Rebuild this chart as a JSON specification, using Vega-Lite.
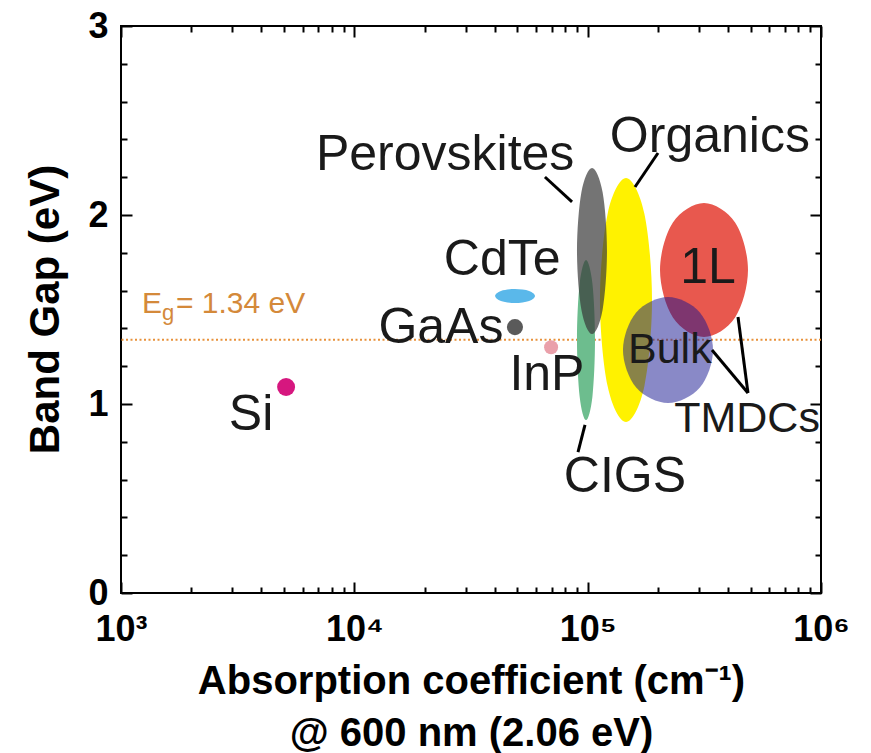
{
  "$schema": "https://vega.github.io/schema/vega-lite/v6.json",
  "width": 700,
  "height": 567,
  "autosize": {"type": "none"},
  "padding": {"left": 121, "top": 26, "right": 50, "bottom": 160},
  "config": {
    "view": {"stroke": "#000", "strokeWidth": 2},
    "font": "Liberation Sans",
    "text": {"font": "Liberation Sans"}
  },
  "datasets": {
    "ellipses": [
      {"m": "Organics", "i": 0, "ab": 188700, "eg": 1.55},
      {"m": "Organics", "i": 1, "ab": 175000, "eg": 2.007},
      {"m": "Organics", "i": 2, "ab": 146000, "eg": 2.196},
      {"m": "Organics", "i": 3, "ab": 121800, "eg": 2.007},
      {"m": "Organics", "i": 4, "ab": 112900, "eg": 1.55},
      {"m": "Organics", "i": 5, "ab": 121800, "eg": 1.094},
      {"m": "Organics", "i": 6, "ab": 146000, "eg": 0.905},
      {"m": "Organics", "i": 7, "ab": 175000, "eg": 1.094},
      {"m": "1L", "i": 0, "ab": 486500, "eg": 1.709},
      {"m": "1L", "i": 1, "ab": 428400, "eg": 1.96},
      {"m": "1L", "i": 2, "ab": 315200, "eg": 2.064},
      {"m": "1L", "i": 3, "ab": 231900, "eg": 1.96},
      {"m": "1L", "i": 4, "ab": 204200, "eg": 1.709},
      {"m": "1L", "i": 5, "ab": 231900, "eg": 1.458},
      {"m": "1L", "i": 6, "ab": 315200, "eg": 1.355},
      {"m": "1L", "i": 7, "ab": 428400, "eg": 1.458},
      {"m": "CIGS", "i": 0, "ab": 107500, "eg": 1.339},
      {"m": "CIGS", "i": 1, "ab": 104800, "eg": 1.638},
      {"m": "CIGS", "i": 2, "ab": 98400, "eg": 1.762},
      {"m": "CIGS", "i": 3, "ab": 92400, "eg": 1.638},
      {"m": "CIGS", "i": 4, "ab": 90000, "eg": 1.339},
      {"m": "CIGS", "i": 5, "ab": 92400, "eg": 1.039},
      {"m": "CIGS", "i": 6, "ab": 98400, "eg": 0.915},
      {"m": "CIGS", "i": 7, "ab": 104800, "eg": 1.039},
      {"m": "Perovskites", "i": 0, "ab": 121000, "eg": 1.81},
      {"m": "Perovskites", "i": 1, "ab": 115900, "eg": 2.12},
      {"m": "Perovskites", "i": 2, "ab": 104400, "eg": 2.249},
      {"m": "Perovskites", "i": 3, "ab": 94000, "eg": 2.12},
      {"m": "Perovskites", "i": 4, "ab": 90000, "eg": 1.81},
      {"m": "Perovskites", "i": 5, "ab": 94000, "eg": 1.499},
      {"m": "Perovskites", "i": 6, "ab": 104400, "eg": 1.37},
      {"m": "Perovskites", "i": 7, "ab": 115900, "eg": 1.499},
      {"m": "Bulk", "i": 0, "ab": 344500, "eg": 1.286},
      {"m": "Bulk", "i": 1, "ab": 302500, "eg": 1.484},
      {"m": "Bulk", "i": 2, "ab": 221000, "eg": 1.566},
      {"m": "Bulk", "i": 3, "ab": 161400, "eg": 1.484},
      {"m": "Bulk", "i": 4, "ab": 141700, "eg": 1.286},
      {"m": "Bulk", "i": 5, "ab": 161400, "eg": 1.087},
      {"m": "Bulk", "i": 6, "ab": 221000, "eg": 1.005},
      {"m": "Bulk", "i": 7, "ab": 302500, "eg": 1.087},
      {"m": "CdTe", "i": 0, "ab": 59500, "eg": 1.571},
      {"m": "CdTe", "i": 1, "ab": 56100, "eg": 1.598},
      {"m": "CdTe", "i": 2, "ab": 48800, "eg": 1.608},
      {"m": "CdTe", "i": 3, "ab": 42500, "eg": 1.598},
      {"m": "CdTe", "i": 4, "ab": 40100, "eg": 1.571},
      {"m": "CdTe", "i": 5, "ab": 42500, "eg": 1.545},
      {"m": "CdTe", "i": 6, "ab": 48800, "eg": 1.534},
      {"m": "CdTe", "i": 7, "ab": 56100, "eg": 1.545}
    ]
  },
  "resolve": {"axis": {"x": "independent", "y": "independent"}},
  "layer": [
    {
      "data": {"values": [{"eg": 1.34}]},
      "mark": {"type": "rule", "color": "#e8913a", "strokeWidth": 2, "strokeDash": [2, 2.5]},
      "encoding": {
        "y": {"field": "eg", "type": "quantitative", "scale": {"domain": [0, 3], "nice": false, "zero": false}, "axis": null}
      }
    },
    {
      "data": {"name": "ellipses"},
      "transform": [{"filter": "datum.m == 'Organics'"}],
      "mark": {"type": "line", "interpolate": "cardinal-closed", "fill": "#fff200", "stroke": "transparent", "strokeWidth": 0},
      "encoding": {
        "x": {"field": "ab", "type": "quantitative", "scale": {"type": "log", "domain": [1000, 1000000], "nice": false},
          "axis": {"orient": "bottom", "values": [1000, 10000, 100000, 1000000],
            "labelExpr": "datum.value == 1000 ? '10³' : datum.value == 10000 ? '10⁴' : datum.value == 100000 ? '10⁵' : '10⁶'",
            "ticks": false, "domain": false, "grid": false, "labelFontSize": 36, "labelFontWeight": "bold", "labelColor": "#000",
            "labelPadding": 19, "labelFlush": false, "labelOverlap": false, "labelBound": false,
            "title": ["Absorption coefficient (cm⁻¹)", "@ 600 nm (2.06 eV)"], "titleFontSize": 40, "titleFontWeight": "bold", "titleColor": "#000",
            "titleX": 350, "titleY": 100, "titleBaseline": "alphabetic", "titleAlign": "center", "titleLineHeight": 52}},
        "y": {"field": "eg", "type": "quantitative", "scale": {"domain": [0, 3], "nice": false, "zero": false},
          "axis": {"orient": "left", "values": [0, 1, 2, 3], "format": "d", "ticks": false, "domain": false, "grid": false,
            "labelFontSize": 36, "labelFontWeight": "bold", "labelColor": "#000", "labelPadding": 13, "labelFlush": false, "labelOverlap": false,
            "title": "Band Gap (eV)", "titleFontSize": 42, "titleFontWeight": "bold", "titleColor": "#000",
            "titleX": -63, "titleY": 283, "titleAngle": 270, "titleBaseline": "alphabetic", "titleAlign": "center"}},
        "order": {"field": "i", "type": "quantitative"}
      }
    },
    {
      "data": {"name": "ellipses"},
      "transform": [{"filter": "datum.m == '1L'"}],
      "mark": {"type": "line", "interpolate": "cardinal-closed", "fill": "#e8584e", "stroke": "transparent", "strokeWidth": 0},
      "encoding": {
        "x": {"field": "ab", "type": "quantitative", "scale": {"type": "log", "domain": [1000, 1000000], "nice": false},
          "axis": {"orient": "bottom", "values": [1000, 2000, 3000, 4000, 5000, 6000, 7000, 8000, 9000, 10000, 20000, 30000, 40000, 50000, 60000, 70000, 80000, 90000, 100000, 200000, 300000, 400000, 500000, 600000, 700000, 800000, 900000, 1000000],
            "labels": false, "domain": false, "grid": false, "title": null, "tickColor": "#000", "tickWidth": 2,
            "tickSize": {"condition": {"test": "indexof([1000, 10000, 100000, 1000000], datum.value) >= 0", "value": -11}, "value": -6}}},
        "y": {"field": "eg", "type": "quantitative", "scale": {"domain": [0, 3], "nice": false, "zero": false},
          "axis": {"orient": "left", "values": [0, 0.2, 0.4, 0.6, 0.8, 1, 1.2, 1.4, 1.6, 1.8, 2, 2.2, 2.4, 2.6, 2.8, 3],
            "labels": false, "domain": false, "grid": false, "title": null, "tickColor": "#000", "tickWidth": 2,
            "tickSize": {"condition": {"test": "datum.value % 1 == 0", "value": -11}, "value": -6}}},
        "order": {"field": "i", "type": "quantitative"}
      }
    },
    {
      "data": {"name": "ellipses"},
      "transform": [{"filter": "datum.m == 'CIGS'"}],
      "mark": {"type": "line", "interpolate": "cardinal-closed", "fill": "#6dbd8e", "stroke": "transparent", "strokeWidth": 0},
      "encoding": {
        "x": {"field": "ab", "type": "quantitative", "scale": {"type": "log", "domain": [1000, 1000000], "nice": false},
          "axis": {"orient": "top", "values": [1000, 2000, 3000, 4000, 5000, 6000, 7000, 8000, 9000, 10000, 20000, 30000, 40000, 50000, 60000, 70000, 80000, 90000, 100000, 200000, 300000, 400000, 500000, 600000, 700000, 800000, 900000, 1000000],
            "labels": false, "domain": false, "grid": false, "title": null, "tickColor": "#000", "tickWidth": 2,
            "tickSize": {"condition": {"test": "indexof([1000, 10000, 100000, 1000000], datum.value) >= 0", "value": -11}, "value": -6}}},
        "y": {"field": "eg", "type": "quantitative", "scale": {"domain": [0, 3], "nice": false, "zero": false},
          "axis": {"orient": "right", "values": [0, 0.2, 0.4, 0.6, 0.8, 1, 1.2, 1.4, 1.6, 1.8, 2, 2.2, 2.4, 2.6, 2.8, 3],
            "labels": false, "domain": false, "grid": false, "title": null, "tickColor": "#000", "tickWidth": 2,
            "tickSize": {"condition": {"test": "datum.value % 1 == 0", "value": -11}, "value": -6}}},
        "order": {"field": "i", "type": "quantitative"}
      }
    },
    {
      "data": {"name": "ellipses"},
      "transform": [{"filter": "datum.m == 'Perovskites'"}],
      "mark": {"type": "line", "interpolate": "cardinal-closed", "fill": "#393939", "fillOpacity": 0.7, "stroke": "transparent", "strokeWidth": 0},
      "encoding": {
        "x": {"field": "ab", "type": "quantitative", "scale": {"type": "log", "domain": [1000, 1000000], "nice": false}, "axis": null},
        "y": {"field": "eg", "type": "quantitative", "scale": {"domain": [0, 3], "nice": false, "zero": false}, "axis": null},
        "order": {"field": "i", "type": "quantitative"}
      }
    },
    {
      "data": {"name": "ellipses"},
      "transform": [{"filter": "datum.m == 'Bulk'"}],
      "mark": {"type": "line", "interpolate": "cardinal-closed", "fill": "#14148f", "fillOpacity": 0.5, "stroke": "transparent", "strokeWidth": 0},
      "encoding": {
        "x": {"field": "ab", "type": "quantitative", "scale": {"type": "log", "domain": [1000, 1000000], "nice": false}, "axis": null},
        "y": {"field": "eg", "type": "quantitative", "scale": {"domain": [0, 3], "nice": false, "zero": false}, "axis": null},
        "order": {"field": "i", "type": "quantitative"}
      }
    },
    {
      "data": {"name": "ellipses"},
      "transform": [{"filter": "datum.m == 'CdTe'"}],
      "mark": {"type": "line", "interpolate": "cardinal-closed", "fill": "#5ab8ea", "stroke": "transparent", "strokeWidth": 0},
      "encoding": {
        "x": {"field": "ab", "type": "quantitative", "scale": {"type": "log", "domain": [1000, 1000000], "nice": false}, "axis": null},
        "y": {"field": "eg", "type": "quantitative", "scale": {"domain": [0, 3], "nice": false, "zero": false}, "axis": null},
        "order": {"field": "i", "type": "quantitative"}
      }
    },
    {
      "data": {"values": [
        {"name": "Si", "ab": 5100, "eg": 1.09},
        {"name": "GaAs", "ab": 48800, "eg": 1.407},
        {"name": "InP", "ab": 69700, "eg": 1.3}
      ]},
      "mark": {"type": "point", "shape": "circle", "filled": true, "opacity": 1},
      "encoding": {
        "x": {"field": "ab", "type": "quantitative", "scale": {"type": "log", "domain": [1000, 1000000], "nice": false}, "axis": null},
        "y": {"field": "eg", "type": "quantitative", "scale": {"domain": [0, 3], "nice": false, "zero": false}, "axis": null},
        "color": {"field": "name", "type": "nominal", "scale": {"domain": ["Si", "GaAs", "InP"], "range": ["#d6177f", "#5a5a5a", "#eaa0aa"]}, "legend": null},
        "size": {"field": "name", "type": "nominal", "scale": {"domain": ["Si", "GaAs", "InP"], "range": [324, 196, 196]}, "legend": null}
      }
    },
    {
      "data": {"values": [
        {"to": "Perovskites", "ab": 65600, "eg": 2.201, "ab2": 85700, "eg2": 2.069},
        {"to": "Organics", "ab": 200200, "eg": 2.328, "ab2": 159500, "eg2": 2.148},
        {"to": "CIGS", "ab": 97400, "eg": 0.889, "ab2": 90900, "eg2": 0.746},
        {"to": "TMDCs bulk", "ab": 341000, "eg": 1.286, "ab2": 486500, "eg2": 1.058},
        {"to": "TMDCs 1L", "ab": 440900, "eg": 1.46, "ab2": 486500, "eg2": 1.058}
      ]},
      "mark": {"type": "rule", "color": "#000", "strokeWidth": 3},
      "encoding": {
        "x": {"field": "ab", "type": "quantitative", "scale": {"type": "log", "domain": [1000, 1000000], "nice": false}, "axis": null},
        "y": {"field": "eg", "type": "quantitative", "scale": {"domain": [0, 3], "nice": false, "zero": false}, "axis": null},
        "x2": {"field": "ab2"},
        "y2": {"field": "eg2"}
      }
    },
    {
      "data": {"values": [
        {"t": "Perovskites", "ab": 24500, "eg": 2.238},
        {"t": "Organics", "ab": 334000, "eg": 2.333},
        {"t": "CdTe", "ab": 43000, "eg": 1.683},
        {"t": "GaAs", "ab": 23500, "eg": 1.323},
        {"t": "InP", "ab": 66900, "eg": 1.074},
        {"t": "Si", "ab": 3610, "eg": 0.862},
        {"t": "1L", "ab": 328000, "eg": 1.64},
        {"t": "CIGS", "ab": 144500, "eg": 0.534}
      ]},
      "mark": {"type": "text", "fontSize": 50, "align": "center", "baseline": "alphabetic", "color": "#1a1a1a"},
      "encoding": {
        "x": {"field": "ab", "type": "quantitative", "scale": {"type": "log", "domain": [1000, 1000000], "nice": false}, "axis": null},
        "y": {"field": "eg", "type": "quantitative", "scale": {"domain": [0, 3], "nice": false, "zero": false}, "axis": null},
        "text": {"field": "t"}
      }
    },
    {
      "data": {"values": [
        {"t": "Bulk", "ab": 225000, "eg": 1.217},
        {"t": "TMDCs", "ab": 482000, "eg": 0.852}
      ]},
      "mark": {"type": "text", "fontSize": 43, "align": "center", "baseline": "alphabetic", "color": "#1a1a1a"},
      "encoding": {
        "x": {"field": "ab", "type": "quantitative", "scale": {"type": "log", "domain": [1000, 1000000], "nice": false}, "axis": null},
        "y": {"field": "eg", "type": "quantitative", "scale": {"domain": [0, 3], "nice": false, "zero": false}, "axis": null},
        "text": {"field": "t"}
      }
    },
    {
      "data": {"values": [
        {"t": "E", "ab": 1230, "eg": 1.481},
        {"t": "= 1.34 eV", "ab": 1720, "eg": 1.481}
      ]},
      "mark": {"type": "text", "fontSize": 30, "align": "left", "baseline": "alphabetic", "color": "#d4893a"},
      "encoding": {
        "x": {"field": "ab", "type": "quantitative", "scale": {"type": "log", "domain": [1000, 1000000], "nice": false}, "axis": null},
        "y": {"field": "eg", "type": "quantitative", "scale": {"domain": [0, 3], "nice": false, "zero": false}, "axis": null},
        "text": {"field": "t"}
      }
    },
    {
      "data": {"values": [
        {"t": "g", "ab": 1500, "eg": 1.444}
      ]},
      "mark": {"type": "text", "fontSize": 22, "align": "left", "baseline": "alphabetic", "color": "#d4893a"},
      "encoding": {
        "x": {"field": "ab", "type": "quantitative", "scale": {"type": "log", "domain": [1000, 1000000], "nice": false}, "axis": null},
        "y": {"field": "eg", "type": "quantitative", "scale": {"domain": [0, 3], "nice": false, "zero": false}, "axis": null},
        "text": {"field": "t"}
      }
    }
  ]
}
